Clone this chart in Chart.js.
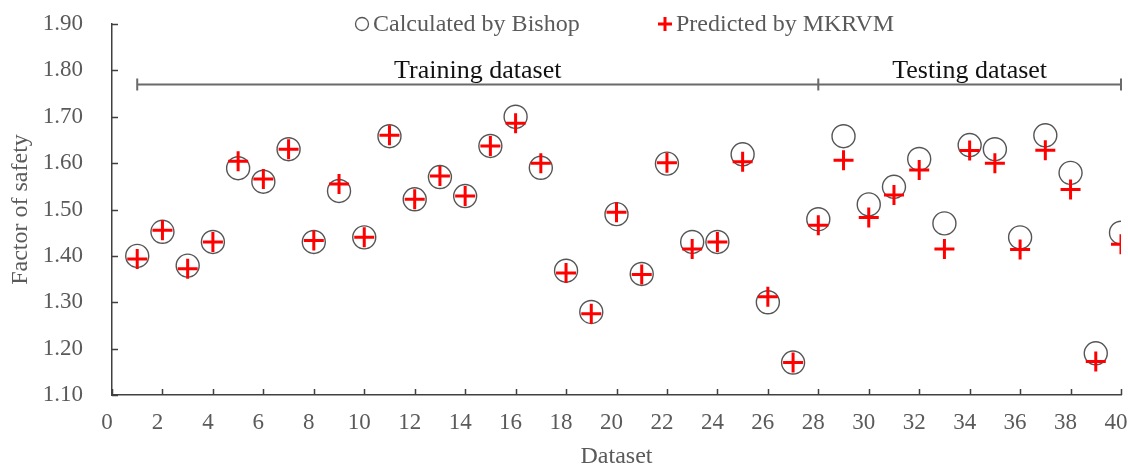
<!DOCTYPE html>
<html>
<head>
<meta charset="utf-8">
<script src="https://cdn.jsdelivr.net/npm/chart.js@4.4.1/dist/chart.umd.min.js"></script>
<style>
  html, body { margin: 0; padding: 0; background: #fff; overflow: hidden; }
  #wrap { width: 1128px; height: 465px; position: relative; overflow: hidden; }
  #c { position: absolute; left: 0; top: 0; }
</style>
</head>
<body>
<div id="wrap"><canvas id="c" width="1134" height="465"></canvas></div>
<script>
// Factor of safety per sample: limit-equilibrium (Bishop) vs. MKRVM prediction
const datasetIds = [1,2,3,4,5,6,7,8,9,10,11,12,13,14,15,16,17,18,19,20,
                    21,22,23,24,25,26,27,28,29,30,31,32,33,34,35,36,37,38,39,40];
const bishop = [1.40,1.452,1.379,1.430,1.589,1.560,1.630,1.430,1.540,1.440,
                1.658,1.522,1.570,1.529,1.637,1.700,1.590,1.368,1.279,1.490,
                1.361,1.599,1.430,1.430,1.619,1.300,1.170,1.479,1.658,1.511,
                1.549,1.609,1.470,1.639,1.630,1.440,1.660,1.579,1.190,1.450];
const mkrvm  = [1.393,1.455,1.372,1.430,1.604,1.566,1.630,1.433,1.555,1.440,
                1.660,1.522,1.572,1.529,1.637,1.686,1.600,1.363,1.275,1.494,
                1.360,1.601,1.415,1.430,1.603,1.312,1.170,1.466,1.606,1.483,
                1.531,1.585,1.415,1.627,1.600,1.414,1.628,1.543,1.172,1.425];
const xTicks = [0,2,4,6,8,10,12,14,16,18,20,22,24,26,28,30,32,34,36,38,40];
const yTicks = [1.10,1.20,1.30,1.40,1.50,1.60,1.70,1.80,1.90];
// bracket spans: [start, end, label]
const groups = [[1, 28, 'Training dataset'], [28, 40, 'Testing dataset']];
const bracketLevel = 1.77;
const legendLabels = ['Calculated by Bishop', 'Predicted by MKRVM'];

const SERIF = '"Liberation Serif", "DejaVu Serif", serif';
const AXIS = '#404040';
const GREY_TXT = '#5a5a5a';

const pts = (ys) => datasetIds.map((x, i) => ({ x: x, y: ys[i] }));

// inward tick marks, bracket annotations and the top legend
const decorations = {
  id: 'decorations',
  afterDatasetsDraw(chart) {
    const { ctx, chartArea: a, scales: { x, y } } = chart;
    ctx.save();
    ctx.strokeStyle = AXIS;
    ctx.lineWidth = 1.5;
    ctx.beginPath();
    xTicks.forEach(v => {
      const px = Math.round(x.getPixelForValue(v)) + 0.5;
      ctx.moveTo(px, a.bottom); ctx.lineTo(px, a.bottom - 6);
    });
    yTicks.forEach(v => {
      const py = Math.round(y.getPixelForValue(v)) + 0.5;
      ctx.moveTo(a.left, py); ctx.lineTo(a.left + 6, py);
    });
    ctx.stroke();

    // brackets
    const by = Math.round(y.getPixelForValue(bracketLevel)) + 0.5;
    ctx.strokeStyle = '#6a6a6a';
    ctx.lineWidth = 2;
    ctx.beginPath();
    const x0 = x.getPixelForValue(groups[0][0]);
    const x1 = x.getPixelForValue(groups[groups.length - 1][1]);
    ctx.moveTo(x0, by); ctx.lineTo(x1, by);
    const ends = [groups[0][0]].concat(groups.map(g => g[1]));
    ends.forEach(v => {
      const px = x.getPixelForValue(v);
      ctx.moveTo(px, by - 6); ctx.lineTo(px, by + 6);
    });
    ctx.stroke();
    ctx.fillStyle = '#111';
    ctx.font = '26px ' + SERIF;
    ctx.textAlign = 'center';
    ctx.textBaseline = 'alphabetic';
    groups.forEach(g => {
      const cx = (x.getPixelForValue(g[0]) + x.getPixelForValue(g[1])) / 2;
      ctx.fillText(g[2], cx, by - 7);
    });

    // legend
    const ly = a.top;
    ctx.font = '24px ' + SERIF;
    ctx.textAlign = 'left';
    ctx.textBaseline = 'middle';
    ctx.fillStyle = GREY_TXT;
    let lx = 355;
    ctx.strokeStyle = '#555';
    ctx.lineWidth = 1.3;
    ctx.beginPath();
    ctx.arc(lx + 7, ly, 6.5, 0, Math.PI * 2);
    ctx.stroke();
    ctx.fillText(legendLabels[0], lx + 18, ly + 1);
    lx = 657;
    ctx.strokeStyle = '#ff0000';
    ctx.lineWidth = 3;
    ctx.beginPath();
    ctx.moveTo(lx + 1, ly); ctx.lineTo(lx + 15, ly);
    ctx.moveTo(lx + 8, ly - 7); ctx.lineTo(lx + 8, ly + 7);
    ctx.stroke();
    ctx.fillText(legendLabels[1], lx + 19, ly + 1);
    ctx.restore();
  }
};

new Chart(document.getElementById('c'), {
  type: 'scatter',
  data: {
    datasets: [
      {
        label: legendLabels[0],
        data: pts(bishop),
        pointStyle: 'circle',
        pointRadius: 11.5,
        pointHoverRadius: 11.5,
        backgroundColor: 'rgba(0,0,0,0)',
        borderColor: '#555',
        borderWidth: 1.4,
        order: 2
      },
      {
        label: legendLabels[1],
        data: pts(mkrvm),
        pointStyle: 'cross',
        pointRadius: 10,
        pointHoverRadius: 10,
        backgroundColor: '#ff0000',
        borderColor: '#ff0000',
        borderWidth: 3,
        order: 1
      }
    ]
  },
  options: {
    responsive: false,
    animation: false,
    layout: { padding: { top: 24, right: 7, bottom: 0, left: 0 } },
    plugins: {
      legend: { display: false },
      tooltip: { enabled: false }
    },
    scales: {
      x: {
        type: 'linear',
        min: 0, max: 40,
        afterBuildTicks: (s) => { s.ticks = xTicks.map(v => ({ value: v })); },
        afterFit: (s) => {
          s.height = 70;
          s.paddingRight = 0; s.paddingLeft = 0; s.paddingTop = 0; s.paddingBottom = 0;
        },
        grid: { display: true, drawOnChartArea: false, drawTicks: false },
        border: { display: true, color: AXIS, width: 1.5 },
        ticks: {
          padding: 14,
          labelOffset: -5,
          color: GREY_TXT,
          font: { family: SERIF, size: 23 },
          maxRotation: 0,
          autoSkip: false
        },
        title: {
          display: true,
          text: 'Dataset',
          color: GREY_TXT,
          font: { family: SERIF, size: 24 },
          padding: { top: 0, bottom: -6 }
        }
      },
      y: {
        type: 'linear',
        min: 1.10, max: 1.90,
        afterBuildTicks: (s) => { s.ticks = yTicks.map(v => ({ value: v })); },
        afterFit: (s) => {
          s.width = 112;
          s.paddingTop = 0; s.paddingBottom = 0; s.paddingLeft = 0; s.paddingRight = 0;
        },
        grid: { display: true, drawOnChartArea: false, drawTicks: false },
        border: { display: true, color: AXIS, width: 1.5 },
        ticks: {
          padding: 29,
          color: GREY_TXT,
          font: { family: SERIF, size: 23 },
          callback: (v) => Number(v).toFixed(2),
          autoSkip: false
        },
        title: {
          display: true,
          text: 'Factor of safety',
          color: GREY_TXT,
          font: { family: SERIF, size: 24 },
          padding: { top: 6, bottom: 0 }
        }
      }
    }
  },
  plugins: [decorations]
});
</script>
</body>
</html>
